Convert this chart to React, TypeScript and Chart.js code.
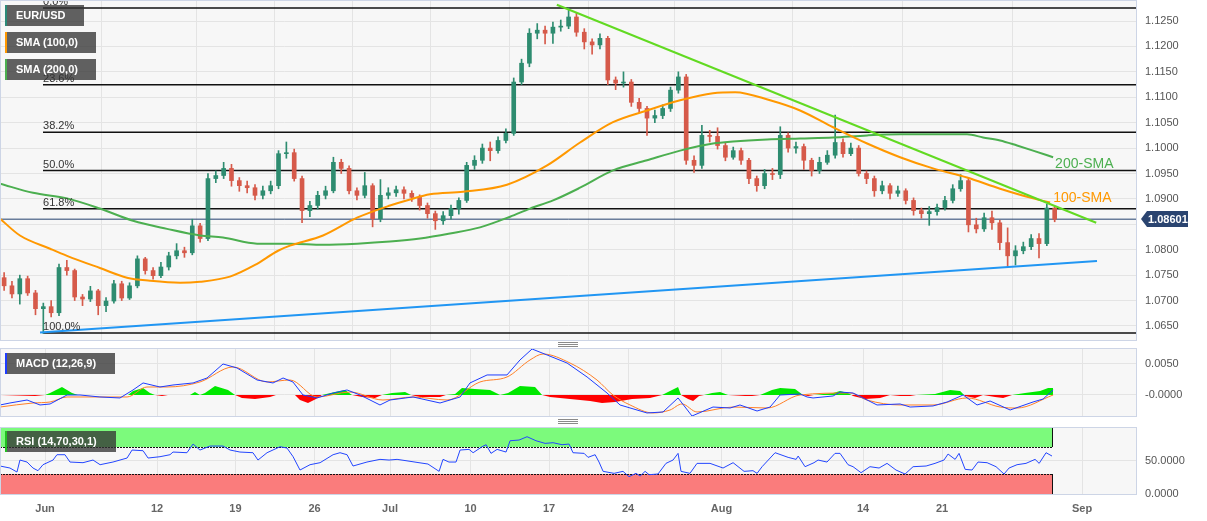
import React, { useEffect, useRef } from 'react';
import { Chart, registerables } from 'chart.js';

Chart.register(...registerables);

// ---------------- data ----------------
// time axis unit: trading days, 0 = Jun 1 2023
const candleStartDay = -2.75;
const candleStepDay = 0.5;
const openFirst = 1.0745;
const closes = [
  1.0729, 1.0713, 1.0743, 1.0715, 1.0684, 1.0688, 1.0676, 1.0765, 1.0759, 1.0707,
  1.0703, 1.0719, 1.0690, 1.0699, 1.0733, 1.0705, 1.0729, 1.0782, 1.0759, 1.0749,
  1.0766, 1.0788, 1.0798, 1.0794, 1.0847, 1.0822, 1.0940, 1.0946, 1.0960, 1.0936,
  1.0926, 1.0922, 1.0907, 1.0916, 1.0926, 1.0989, 1.0991, 1.0940, 1.0877, 1.0887,
  1.0907, 1.0916, 1.0972, 1.0960, 1.0916, 1.0907, 1.0926, 1.0861, 1.0907, 1.0912,
  1.0918, 1.0911, 1.0903, 1.0887, 1.0871, 1.0857, 1.0867, 1.0881, 1.0897, 1.0966,
  1.0976, 1.1000, 1.0995, 1.1015, 1.1029, 1.1130, 1.1167, 1.1226, 1.1232, 1.1226,
  1.1238, 1.1240, 1.1258, 1.1228, 1.1209, 1.1203, 1.1216, 1.1134, 1.1128, 1.1130,
  1.1090, 1.1078, 1.1059, 1.1064, 1.1078, 1.1114, 1.1140, 1.0976, 1.0966, 1.1025,
  1.1023, 1.1005, 1.0982, 1.0995, 1.0976, 1.0940, 1.0926, 1.0950, 1.0948, 1.1025,
  1.1000, 1.1003, 1.0976, 1.0956, 1.0972, 1.0986, 1.1011, 1.0989, 1.1000, 1.0950,
  1.0940, 1.0916, 1.0926, 1.0911, 1.0916, 1.0897, 1.0877, 1.0871, 1.0875, 1.0883,
  1.0897, 1.0920, 1.0936, 1.0849, 1.0841, 1.0863, 1.0853, 1.0814, 1.0788, 1.0798,
  1.0806, 1.0822, 1.0812, 1.0882, 1.08601,
];
const highs = [
  1.0755, 1.0738, 1.0750, 1.0748, 1.0720, 1.0695, 1.0700, 1.0772, 1.0779, 1.0762,
  1.0712, 1.0728, 1.0722, 1.0706, 1.0740, 1.0738, 1.0735, 1.0788, 1.0785, 1.0765,
  1.0775, 1.0795, 1.0812, 1.0805, 1.0860, 1.0852, 1.0950, 1.0955, 1.0972, 1.0968,
  1.0942, 1.0935, 1.0928, 1.0925, 1.0935, 1.0995, 1.1012, 1.0998, 1.0945, 1.0895,
  1.0915, 1.0925, 1.0982, 1.0978, 1.0965, 1.0922, 1.0952, 1.0930, 1.0938, 1.0922,
  1.0925, 1.0924, 1.0916, 1.0908, 1.0892, 1.0876, 1.0875, 1.0888, 1.0902, 1.0972,
  1.0985, 1.1008, 1.1012, 1.1022, 1.1038, 1.1138, 1.1175, 1.1235, 1.1245, 1.1240,
  1.1248, 1.1252, 1.1276, 1.1265, 1.1235, 1.1215, 1.1225, 1.1220, 1.1140, 1.1150,
  1.1135, 1.1098, 1.1082, 1.1075, 1.1085, 1.1120, 1.1150, 1.1145, 1.0985, 1.1045,
  1.1035, 1.1040, 1.1010, 1.1002, 1.1000, 1.0980, 1.0945, 1.0958, 1.0960, 1.1042,
  1.1030, 1.1012, 1.1008, 1.0980, 1.0982, 1.0995, 1.1065, 1.1018, 1.1010, 1.1005,
  1.0955, 1.0945, 1.0935, 1.0930, 1.0925, 1.0920, 1.0902, 1.0882, 1.0885, 1.0890,
  1.0905, 1.0928, 1.0948, 1.0940, 1.0862, 1.0872, 1.0876, 1.0858, 1.0843, 1.0808,
  1.0815, 1.0830, 1.0832, 1.0890, 1.0885,
];
const lows = [
  1.0720, 1.0705, 1.0693, 1.0710, 1.0672, 1.0635, 1.0668, 1.0670, 1.0750, 1.0700,
  1.0690, 1.0698, 1.0672, 1.0678, 1.0695, 1.0700, 1.0702, 1.0725, 1.0752, 1.0742,
  1.0745, 1.0760, 1.0782, 1.0785, 1.0790, 1.0815, 1.0818, 1.0932, 1.0940, 1.0925,
  1.0915, 1.0912, 1.0898, 1.0900, 1.0910, 1.0920, 1.0980, 1.0935, 1.0853, 1.0865,
  1.0880, 1.0900, 1.0912, 1.0950, 1.0910, 1.0898, 1.0902, 1.0845, 1.0855, 1.0900,
  1.0905, 1.0900, 1.0895, 1.0878, 1.0862, 1.0840, 1.0850, 1.0860, 1.0870, 1.0893,
  1.0958, 1.0970, 1.0975, 1.0990, 1.1010, 1.1025, 1.1125, 1.1160, 1.1215, 1.1205,
  1.1206, 1.1230, 1.1235, 1.1220, 1.1195, 1.1185, 1.1195, 1.1125, 1.1115, 1.1120,
  1.1082, 1.1070, 1.1025, 1.1050, 1.1058, 1.1072, 1.1108, 1.0968, 1.0952, 1.0960,
  1.1012, 1.0998, 1.0975, 1.0978, 1.0968, 1.0930, 1.0915, 1.0920, 1.0938, 1.0940,
  1.0992, 1.0990, 1.0958, 1.0945, 1.0950, 1.0968, 1.0980, 1.0982, 1.0985, 1.0945,
  1.0930, 1.0905, 1.0910, 1.0900, 1.0905, 1.0890, 1.0868, 1.0862, 1.0848, 1.0868,
  1.0878, 1.0892, 1.0915, 1.0835, 1.0833, 1.0836, 1.0840, 1.0800, 1.0766, 1.0770,
  1.0792, 1.0800, 1.0784, 1.0808, 1.0855,
];

const sma100Days = [-3.01, -1.74, 0.18, 1.26, 3.36, 5.09, 6.55, 8.47, 9.74, 11.65, 13.25, 14.72, 15.48, 17.59, 19.76, 21.86, 23.14, 24.41, 26.52, 29.32, 31.88, 33.98, 36.08, 38.25, 40.36, 42.46, 43.87, 46.10, 48.01, 50.12, 52.29, 54.39, 56.49, 58.66, 60.77, 62.87, 63.96];
const sma100Values = [1.0861, 1.0828, 1.0802, 1.0788, 1.0764, 1.0745, 1.0739, 1.0735, 1.0737, 1.0747, 1.0770, 1.0798, 1.0808, 1.0828, 1.0863, 1.0887, 1.0899, 1.0909, 1.0914, 1.0928, 1.0966, 1.1011, 1.1051, 1.1074, 1.1094, 1.1108, 1.1110, 1.1094, 1.1074, 1.1041, 1.1009, 1.0982, 1.0960, 1.0942, 1.0920, 1.0901, 1.0893];

const sma200Days = [-3.01, -0.91, 1.26, 3.36, 5.47, 7.64, 9.74, 11.21, 13.38, 15.48, 17.59, 19.76, 21.86, 23.78, 25.69, 27.60, 29.52, 30.79, 32.26, 33.98, 36.08, 38.25, 40.36, 42.46, 43.74, 45.91, 48.01, 50.12, 52.29, 54.39, 56.49, 58.66, 59.68, 60.77, 61.85, 62.87, 64.15];
const sma200Values = [1.0930, 1.0912, 1.0901, 1.0881, 1.0857, 1.0841, 1.0828, 1.0824, 1.0812, 1.0812, 1.0810, 1.0812, 1.0816, 1.0822, 1.0832, 1.0844, 1.0865, 1.0881, 1.0897, 1.0922, 1.0956, 1.0976, 1.0995, 1.1009, 1.1013, 1.1017, 1.1019, 1.1021, 1.1025, 1.1027, 1.1027, 1.1027, 1.1021, 1.1015, 1.1005, 1.0995, 1.0982];

const resistanceDays = [32.5, 66.9];
const resistanceValues = [1.1282, 1.0853];
const supportDays = [-0.46, 66.95];
const supportValues = [1.0637, 1.0778];

const fibHigh = 1.12757;
const fibLow = 1.06362;
const fibStartDay = -0.27;
const fibRatios = [0, 0.236, 0.382, 0.5, 0.618, 1];
const fibLabels = ['0.0%', '23.6%', '38.2%', '50.0%', '61.8%', '100.0%'];

const macdDays = [-3.01, -2.38, -1.29, -0.46, 0.18, 1.26, 2.09, 3.36, 4.64, 5.47, 6.11, 7.19, 8.02, 9.30, 10.19, 11.21, 12.10, 13.38, 14.40, 15.04, 15.67, 16.31, 17.21, 18.23, 19.12, 19.95, 21.22, 21.86, 23.33, 25.05, 26.33, 26.96, 28.05, 29.32, 30.15, 30.92, 31.88, 33.15, 34.43, 35.70, 36.53, 38.25, 39.27, 40.23, 41.12, 42.46, 43.55, 44.18, 45.27, 46.10, 46.74, 48.01, 48.46, 48.84, 50.12, 50.56, 51.39, 52.03, 52.92, 54.39, 55.03, 56.49, 57.39, 58.41, 59.30, 60.13, 61.41, 62.87, 63.51, 64.15];
const macdValues = [-0.00161, -0.00129, -0.00081, -0.00161, -0.00145, 0, 0, -0.00032, -0.00048, 0.00081, 0.00194, 0.00129, 0.00161, 0.00194, 0.00274, 0.00500, 0.00436, 0.00242, 0.00194, 0.00274, 0.00210, 0, -0.00048, 0.00032, 0.00081, 0, -0.00161, -0.00081, -0.00032, -0.00129, -0.00032, 0.00194, 0.00323, 0.00323, 0.00565, 0.00742, 0.00645, 0.00516, 0.00290, 0.00032, -0.00161, -0.00290, -0.00274, -0.00048, -0.00339, -0.00194, -0.00210, -0.00161, -0.00258, -0.00194, 0, 0.00016, -0.00032, -0.00048, -0.00016, 0.00048, 0.00032, -0.00048, -0.00161, -0.00145, -0.00194, -0.00177, -0.00113, 0, -0.00161, -0.00097, -0.00242, -0.00113, -0.00065, 0.00081];

const signalDays = [-3.01, -0.91, 0.18, 1.26, 3.36, 5.09, 6.36, 7.64, 9.74, 11.85, 14.02, 15.48, 17.21, 19.31, 21.41, 23.33, 25.50, 27.60, 29.32, 30.79, 31.62, 33.34, 35.06, 36.08, 37.17, 38.63, 39.72, 40.48, 41.44, 43.74, 45.91, 48.01, 51.20, 52.28, 54.39, 56.49, 58.66, 60.77, 61.85, 64.15];
const signalValues = [-0.00194, -0.00129, -0.00113, -0.00032, -0.00032, -0.00032, 0.00129, 0.00129, 0.00210, 0.00452, 0.00210, 0.00242, -0.00032, 0.00048, -0.00081, -0.00032, -0.00081, 0.00210, 0.00290, 0.00565, 0.00661, 0.00516, 0.00242, 0, -0.00161, -0.00290, -0.00242, -0.00145, -0.00274, -0.00194, -0.00210, 0, 0.00032, -0.00081, -0.00161, -0.00161, -0.00048, -0.00194, -0.00210, 0];

const histDays = [-3.01, -0.78, -0.14, 0.18, 0.94, 1.58, 1.96, 5.15, 5.47, 6.11, 6.55, 6.87, 7.32, 7.70, 9.10, 9.42, 9.74, 10.06, 10.70, 11.53, 11.98, 12.42, 13.25, 14.21, 14.59, 15.80, 16.12, 16.63, 17.14, 17.52, 18.35, 18.99, 19.44, 20.08, 20.90, 21.35, 21.99, 22.82, 23.20, 23.77, 25.05, 25.43, 26.01, 26.45, 27.28, 28.24, 28.88, 29.39, 30.15, 31.11, 31.56, 32.07, 33.34, 34.62, 35.38, 36.21, 37.30, 38.44, 39.21, 39.59, 40.23, 40.42, 40.87, 41.19, 41.57, 41.89, 42.40, 42.91, 43.42, 44.50, 44.95, 45.46, 46.22, 46.74, 47.69, 48.20, 48.52, 48.90, 50.12, 50.56, 51.07, 51.39, 52.16, 53.11, 53.75, 54.39, 55.03, 55.41, 56.62, 57.58, 58.22, 58.53, 59.17, 59.68, 60.45, 60.96, 61.53, 62.36, 63.32, 63.83, 64.15];
const histValues = [0, -0.00016, 0, 0.00032, 0.00129, 0.00032, 0, 0, 0.00065, 0.00113, 0.00032, 0, -0.00016, 0, 0, 0.00048, 0, 0.00032, 0.00145, 0.00081, 0, -0.00048, -0.00065, -0.00032, 0, 0, -0.00081, -0.00129, -0.00065, 0, 0.00048, 0.00081, 0, -0.00032, -0.00048, 0, 0.00032, 0.00048, 0, -0.00032, -0.00032, 0, 0.00016, 0.00113, 0.00097, 0.00081, 0, 0.00032, 0.00145, 0.00129, 0, -0.00032, -0.00065, -0.00097, -0.00129, -0.00113, -0.00065, -0.00048, 0, 0.00048, 0.00129, 0, -0.00065, -0.00097, -0.00016, 0, 0.00032, 0.00048, 0, -0.00016, -0.00016, 0, 0.00081, 0.00113, 0.00097, 0, -0.00016, 0, 0.00032, 0.00065, 0.00032, -0.00016, -0.00065, -0.00048, 0, -0.00016, -0.00016, 0, 0.00016, 0.00081, 0.00065, -0.00016, -0.00048, 0, -0.00032, -0.00048, 0, 0.00032, 0.00065, 0.00113, 0.00113];

const rsiDays = [-3.01, -2.38, -1.93, -1.74, -1.29, -0.91, -0.59, -0.27, 0.37, 0.62, 1.13, 1.45, 2.28, 2.92, 3.37, 4.19, 5.09, 5.41, 6.11, 6.43, 7.19, 7.83, 8.02, 8.91, 9.30, 9.74, 10.38, 11.21, 11.66, 12.29, 13.12, 13.44, 14.02, 14.85, 15.29, 15.68, 16.12, 16.76, 17.40, 18.23, 18.67, 19.12, 19.50, 20.39,
  21.22, 21.80, 22.31, 22.88, 23.71, 24.28, 24.99, 25.24, 25.62, 26.07, 26.33, 26.90, 27.16, 27.73, 27.99, 28.30, 28.69, 29.26, 29.52, 30.09, 30.60, 31.17, 31.75, 32.26, 32.83, 33.28, 33.53, 34.24, 34.49, 34.94, 35.19, 35.45, 36.15, 36.72, 37.10, 37.55, 37.81, 38.13, 38.38, 38.95, 39.46, 39.91, 40.23, 40.42, 40.99, 41.44, 42.27, 43.10, 43.74, 44.44, 45.01, 45.27, 45.59, 46.42, 47.25, 47.76, 47.89, 48.33, 48.90, 49.16, 49.73, 50.24, 50.56, 51.07, 51.39, 51.90, 52.47, 53.05, 53.56, 54.13, 54.71, 55.22, 56.05, 56.62, 57.19, 57.45, 57.90, 58.15, 58.54, 58.98, 59.36, 59.94, 60.51, 61.02, 61.34, 61.85, 62.42, 63.00, 63.26, 63.70, 64.08];
const rsiValues = [42, 39, 33, 51, 48, 39, 35, 44, 51, 59, 59, 48, 47, 51, 44, 48, 54, 66, 65, 54, 56, 59, 63, 62, 75, 66, 72, 72, 66, 63, 62, 51, 62, 71, 69, 56, 36, 44, 47, 59, 62, 59, 42, 48,
  52, 51, 52, 50, 47, 45, 34, 52, 48, 48, 66, 67, 62, 71, 74, 61, 67, 63, 80, 81, 86, 80, 76, 77, 74, 75, 62, 61, 55, 59, 48, 34, 31, 34, 26, 31, 27, 34, 29, 30, 46, 51, 61, 34, 31, 46, 46, 39, 47, 34, 35, 31, 41, 62, 55, 52, 57, 41, 47, 51, 48, 61, 61, 44, 41, 32, 41, 39, 46, 36, 30, 41, 42, 46, 51, 60, 52, 61, 37, 36, 48, 47, 41, 30, 39, 44, 46, 52, 46, 62, 57];

const xTickDays = [-0.14, 7, 12, 17.05, 21.86, 27, 32, 37.04, 43, 52.03, 57.07, 66];
const xTickLabels = ['Jun', '12', '19', '26', 'Jul', '10', '17', '24', 'Aug', '14', '21', 'Sep'];
const priceTicks = [1.065, 1.07, 1.075, 1.08, 1.085, 1.09, 1.095, 1.1, 1.105, 1.11, 1.115, 1.12, 1.125];
const priceTickLabels = ['1.0650', '1.0700', '1.0750', '1.0800', '', '1.0900', '1.0950', '1.1000', '1.1050', '1.1100', '1.1150', '1.1200', '1.1250'];
const macdTicks = [0, 0.005];
const macdTickLabels = ['-0.0000', '0.0050'];
const rsiTicks = [0, 50];
const rsiTickLabels = ['0.0000', '50.0000'];
const rsiUpper = 70;
const rsiLower = 30;

// ---------------- styling ----------------
const FONT = '"Liberation Sans", Arial, Helvetica, sans-serif';
const X_MIN = -3.013;
const X_MAX = 69.5;
const W = 1207;
const GRID = '#e4e4e4';
const UP = '#2e8c70';
const DOWN = '#d65a4a';
const SMA100_COLOR = '#ff9800';
const SMA200_COLOR = '#4caf50';

const zip = (xs: number[], ys: number[]) => xs.map((x, i) => ({ x, y: ys[i] }));

const xScale = (labels: boolean) => ({
  type: 'linear',
  min: X_MIN,
  max: X_MAX,
  offset: false,
  afterBuildTicks: (s: any) => { s.ticks = xTickDays.map((v) => ({ value: v })); },
  afterFit: (s: any) => {
    s.height = labels ? 26 : 0;
    s.paddingLeft = 0; s.paddingRight = 0; s.paddingTop = 0; s.paddingBottom = 0;
  },
  ticks: {
    display: labels,
    autoSkip: false,
    maxRotation: 0,
    padding: 7,
    color: '#666',
    font: { family: FONT, size: 11, weight: 'bold' },
    callback: (_v: any, i: number) => xTickLabels[i] ?? '',
  },
  grid: { color: GRID, drawTicks: false, lineWidth: 1 },
  border: { display: false },
});

const yScale = (min: number, max: number, ticks: number[], labels: string[]) => ({
  type: 'linear',
  position: 'right',
  min,
  max,
  afterBuildTicks: (s: any) => { s.ticks = ticks.map((v) => ({ value: v })); },
  afterFit: (s: any) => {
    s.width = 70;
    s.paddingLeft = 0; s.paddingRight = 0; s.paddingTop = 0; s.paddingBottom = 0;
  },
  ticks: {
    padding: 8,
    color: '#555',
    font: { family: FONT, size: 11 },
    callback: (_v: any, i: number) => labels[i] ?? '',
  },
  grid: { color: GRID, drawTicks: false, lineWidth: 1 },
  border: { display: false },
});

const panelFrame = {
  id: 'panelFrame',
  beforeDraw(chart: any) {
    const { ctx, chartArea: a } = chart;
    ctx.save();
    ctx.fillStyle = '#f7f7f7';
    ctx.fillRect(a.left, a.top, a.right - a.left, a.bottom - a.top);
    ctx.restore();
  },
  afterDraw(chart: any) {
    const { ctx, chartArea: a } = chart;
    ctx.save();
    ctx.strokeStyle = '#cdd5e6';
    ctx.lineWidth = 1;
    ctx.strokeRect(a.left + 0.5, a.top + 0.5, a.right - a.left - 1, a.bottom - a.top - 1);
    ctx.restore();
  },
};

const lastClose = closes[closes.length - 1];

const mainDecor = {
  id: 'mainDecor',
  afterDatasetsDraw(chart: any) {
    const { ctx, scales } = chart;
    const x = scales.x;
    const y = scales.y;
    ctx.save();
    ctx.font = `11px ${FONT}`;
    ctx.fillStyle = '#333';
    ctx.textAlign = 'left';
    ctx.textBaseline = 'bottom';
    fibRatios.forEach((r, i) => {
      const price = fibHigh - r * (fibHigh - fibLow);
      ctx.fillText(fibLabels[i], x.getPixelForValue(fibStartDay), y.getPixelForValue(price) - 0.5);
    });
    ctx.font = `14px ${FONT}`;
    ctx.textBaseline = 'middle';
    const l2 = sma200Days.length - 1;
    ctx.fillStyle = SMA200_COLOR;
    ctx.fillText('200-SMA', x.getPixelForValue(sma200Days[l2]) + 2, y.getPixelForValue(sma200Values[l2]) + 7);
    const l1 = sma100Days.length - 1;
    ctx.fillStyle = SMA100_COLOR;
    ctx.fillText('100-SMA', x.getPixelForValue(sma100Days[l1]) + 3, y.getPixelForValue(sma100Values[l1]) - 4);
    ctx.restore();
  },
  afterDraw(chart: any) {
    const { ctx, scales, chartArea } = chart;
    const yy = Math.round(scales.y.getPixelForValue(lastClose));
    const x0 = chartArea.right + 4;
    ctx.save();
    ctx.fillStyle = '#2a4470';
    ctx.beginPath();
    ctx.moveTo(x0, yy);
    ctx.lineTo(x0 + 6, yy - 8);
    ctx.lineTo(x0 + 47, yy - 8);
    ctx.lineTo(x0 + 47, yy + 8);
    ctx.lineTo(x0 + 6, yy + 8);
    ctx.closePath();
    ctx.fill();
    ctx.fillStyle = '#fff';
    ctx.font = `bold 11px ${FONT}`;
    ctx.textAlign = 'left';
    ctx.textBaseline = 'middle';
    ctx.fillText(lastClose.toFixed(5), x0 + 7, yy + 0.5);
    ctx.restore();
  },
};

const rsiZones = {
  id: 'rsiZones',
  beforeDatasetsDraw(chart: any) {
    const { ctx, scales, chartArea } = chart;
    const x = scales.x;
    const y = scales.y;
    const left = chartArea.left;
    const right = Math.round(x.getPixelForValue(rsiDays[rsiDays.length - 1]));
    const yTop = chartArea.top + 1;
    const y70 = Math.round(y.getPixelForValue(rsiUpper));
    const y30 = Math.round(y.getPixelForValue(rsiLower));
    const y0 = Math.round(y.getPixelForValue(0));
    ctx.save();
    ctx.fillStyle = 'rgb(124,250,124)';
    ctx.fillRect(left, yTop, right - left, y70 - yTop);
    ctx.fillStyle = 'rgb(250,124,124)';
    ctx.fillRect(left, y30, right - left, y0 - y30);
    ctx.strokeStyle = '#111';
    ctx.lineWidth = 1;
    ctx.setLineDash([2, 1]);
    ctx.beginPath();
    ctx.moveTo(left, y70 + 0.5); ctx.lineTo(right, y70 + 0.5);
    ctx.moveTo(left, y30 + 0.5); ctx.lineTo(right, y30 + 0.5);
    ctx.stroke();
    ctx.setLineDash([]);
    ctx.beginPath();
    ctx.moveTo(right + 0.5, yTop); ctx.lineTo(right + 0.5, y70);
    ctx.moveTo(right + 0.5, y30); ctx.lineTo(right + 0.5, y0);
    ctx.stroke();
    ctx.restore();
  },
};

const baseOptions = {
  animation: false,
  responsive: false,
  devicePixelRatio: 1,
  events: [],
  plugins: { legend: { display: false }, tooltip: { enabled: false } },
};

function makeMain(canvas: HTMLCanvasElement) {
  const opens = closes.map((_, i) => (i === 0 ? openFirst : closes[i - 1]));
  const days = closes.map((_, i) => candleStartDay + candleStepDay * i);
  const colors = closes.map((c, i) => (c >= opens[i] ? UP : DOWN));
  const fibSets = fibRatios.map((r) => {
    const price = fibHigh - r * (fibHigh - fibLow);
    return {
      type: 'line',
      data: [{ x: fibStartDay, y: price }, { x: X_MAX, y: price }],
      borderColor: '#111',
      borderWidth: 1.5,
      pointRadius: 0,
      order: 9,
    };
  });
  return new Chart(canvas, {
    type: 'bar',
    data: {
      datasets: [
        ...fibSets,
        {
          type: 'line',
          data: [{ x: X_MIN, y: lastClose }, { x: X_MAX, y: lastClose }],
          borderColor: '#23406e',
          borderWidth: 1,
          pointRadius: 0,
          order: 8,
        },
        {
          type: 'bar',
          data: days.map((d, i) => ({ x: d, y: [lows[i], highs[i]] })),
          backgroundColor: colors,
          barThickness: 1,
          grouped: false,
          order: 7,
        },
        {
          type: 'bar',
          data: days.map((d, i) => ({ x: d, y: [opens[i], closes[i]] })),
          backgroundColor: colors,
          barThickness: 4,
          minBarLength: 1,
          grouped: false,
          order: 6,
        },
        {
          type: 'line',
          data: zip(sma200Days, sma200Values),
          borderColor: SMA200_COLOR,
          borderWidth: 2,
          pointRadius: 0,
          cubicInterpolationMode: 'monotone',
          order: 3,
        },
        {
          type: 'line',
          data: zip(sma100Days, sma100Values),
          borderColor: SMA100_COLOR,
          borderWidth: 2,
          pointRadius: 0,
          cubicInterpolationMode: 'monotone',
          order: 2,
        },
        {
          type: 'line',
          data: zip(resistanceDays, resistanceValues),
          borderColor: 'rgb(98,218,34)',
          borderWidth: 2,
          pointRadius: 0,
          order: 1,
        },
        {
          type: 'line',
          data: zip(supportDays, supportValues),
          borderColor: 'rgb(33,150,243)',
          borderWidth: 2,
          pointRadius: 0,
          order: 1,
        },
      ],
    },
    options: {
      ...baseOptions,
      layout: { padding: { left: 0, top: 0, right: 0, bottom: 0 } },
      scales: {
        x: xScale(false),
        y: yScale(1.06204, 1.12914, priceTicks, priceTickLabels),
      },
    },
    plugins: [panelFrame, mainDecor],
  } as any);
}

function makeMacd(canvas: HTMLCanvasElement) {
  return new Chart(canvas, {
    type: 'line',
    data: {
      datasets: [
        {
          data: zip(macdDays, macdValues),
          borderColor: 'rgb(30,60,255)',
          borderWidth: 1,
          pointRadius: 0,
          order: 1,
        },
        {
          data: zip(signalDays, signalValues),
          borderColor: 'rgb(255,128,40)',
          borderWidth: 1,
          pointRadius: 0,
          cubicInterpolationMode: 'monotone',
          order: 2,
        },
        {
          data: zip(histDays, histValues),
          borderColor: 'rgba(0,0,0,0)',
          borderWidth: 0,
          pointRadius: 0,
          fill: { target: { value: 0 }, above: 'rgb(0,232,0)', below: 'rgb(255,0,0)' },
          order: 3,
        },
      ],
    },
    options: {
      ...baseOptions,
      layout: { padding: { left: 0, top: 1, right: 0, bottom: 1 } },
      scales: {
        x: xScale(false),
        y: yScale(-0.00355, 0.00758, macdTicks, macdTickLabels),
      },
    },
    plugins: [panelFrame],
  } as any);
}

function makeRsi(canvas: HTMLCanvasElement) {
  return new Chart(canvas, {
    type: 'line',
    data: {
      datasets: [
        {
          data: zip(rsiDays, rsiValues),
          borderColor: 'rgb(35,70,255)',
          borderWidth: 1,
          pointRadius: 0,
        },
      ],
    },
    options: {
      ...baseOptions,
      layout: { padding: { left: 0, top: 1, right: 0, bottom: 0 } },
      scales: {
        x: xScale(true),
        y: yScale(-1.5, 100.6, rsiTicks, rsiTickLabels),
      },
    },
    plugins: [panelFrame, rsiZones],
  } as any);
}

const Tag = ({ top, width, stripe, text }: { top: number; width: number; stripe: string; text: string }) => (
  <div
    style={{
      position: 'absolute',
      left: 5,
      top,
      width,
      height: 21,
      boxSizing: 'border-box',
      background: 'rgba(51,51,51,0.77)',
      borderLeft: `2px solid ${stripe}`,
      color: '#fff',
      font: `bold 11px ${FONT}`,
      lineHeight: '21px',
      paddingLeft: 9,
      whiteSpace: 'nowrap',
    }}
  >
    {text}
  </div>
);

const Handle = ({ top }: { top: number }) => (
  <div style={{ position: 'absolute', left: 558, top, width: 20 }}>
    {[0, 2, 4].map((d) => (
      <div key={d} style={{ position: 'absolute', left: 0, top: d, width: 20, height: 1, background: '#8a8a8a' }} />
    ))}
  </div>
);

export default function App() {
  const mainRef = useRef<HTMLCanvasElement>(null);
  const macdRef = useRef<HTMLCanvasElement>(null);
  const rsiRef = useRef<HTMLCanvasElement>(null);

  useEffect(() => {
    const charts = [makeMain(mainRef.current!), makeMacd(macdRef.current!), makeRsi(rsiRef.current!)];
    return () => charts.forEach((c) => c.destroy());
  }, []);

  const cv = (top: number, height: number) => ({
    position: 'absolute' as const,
    left: 0,
    top,
    width: W,
    height,
    display: 'block',
  });

  return (
    <div style={{ position: 'fixed', left: 0, top: 0, width: W, height: 521, background: '#fff', overflow: 'hidden' }}>
      <canvas ref={mainRef} width={W} height={341} style={cv(0, 341)} />
      <canvas ref={macdRef} width={W} height={71} style={cv(347, 71)} />
      <canvas ref={rsiRef} width={W} height={95} style={cv(426, 95)} />
      <Tag top={5} width={79} stripe="#2b8a78" text="EUR/USD" />
      <Tag top={32} width={91} stripe="#ff9800" text="SMA (100,0)" />
      <Tag top={59} width={91} stripe="#4caf50" text="SMA (200,0)" />
      <Tag top={353} width={110} stripe="#1e3cff" text="MACD (12,26,9)" />
      <Tag top={431} width={111} stripe="#22c022" text="RSI (14,70,30,1)" />
      <Handle top={342} />
      <Handle top={419} />
    </div>
  );
}
